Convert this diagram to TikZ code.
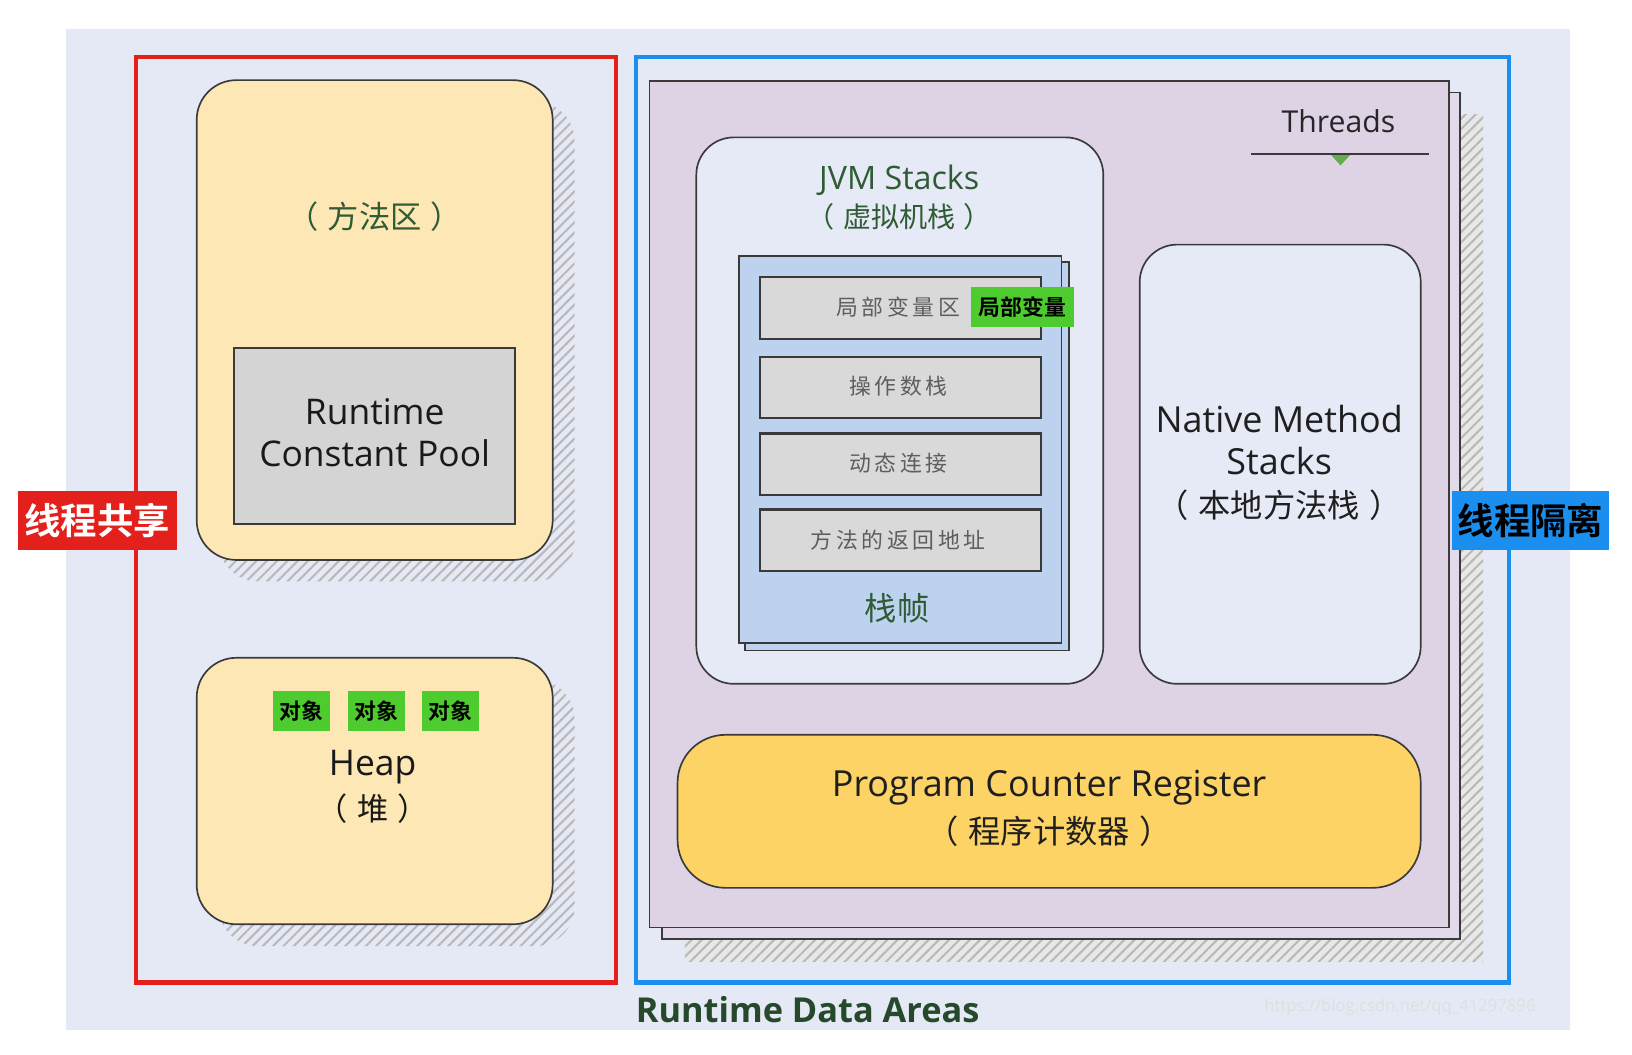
\documentclass[tikz,border=0pt]{standalone}
\usepackage{fontspec}
\setmainfont{Open Sans}
\newfontfamily\cjk{Noto Sans CJK SC}[BoldFont={Noto Sans CJK SC Bold}]
\usetikzlibrary{patterns.meta}
\definecolor{bgc}{HTML}{E5E9F5}
\definecolor{methodc}{HTML}{FDE7B4}
\definecolor{poolc}{HTML}{D4D4D4}
\definecolor{greenlbl}{HTML}{4ECB2E}
\definecolor{panelc}{HTML}{DDD3E5}
\definecolor{panelbc}{HTML}{E2DAEA}
\definecolor{stackc}{HTML}{E6EAF6}
\definecolor{framec}{HTML}{BCD2EE}
\definecolor{cellc}{HTML}{D9D9D9}
\definecolor{pcc}{HTML}{FCD364}
\definecolor{redc}{HTML}{E3201B}
\definecolor{bluec}{HTML}{1A8FF0}
\definecolor{gtext}{HTML}{2F5B35}
\definecolor{edgec}{HTML}{3A3A3A}
\definecolor{celltext}{HTML}{5E5E5E}
\newcommand{\lp}{（\hspace{0.3em}}
\newcommand{\rp}{\hspace{0.3em}）}
\tikzset{
  boxedge/.style={draw=edgec, line width=1.6pt},
  roundbox/.style={boxedge, rounded corners=#1, inner sep=0pt},
  roundbox/.default=38pt,
  hatchbox/.style={fill=gray!18, pattern={Lines[angle=45,distance=7pt,line width=2pt]}, pattern color=gray!55, inner sep=0pt},
  plainbox/.style={boxedge, inner sep=0pt},
  cellbox/.style={draw=edgec, line width=2pt, fill=cellc, inner sep=0pt, minimum width=270pt, minimum height=59pt},
  celltxt/.style={text=celltext, font=\cjk\fontsize{21}{24}\selectfont},
  greenbox/.style={fill=greenlbl, inner sep=0pt, font=\cjk\bfseries\fontsize{21}{24}\selectfont, text=black},
  txt/.style={inner sep=0pt, align=center},
}
\begin{document}
\begin{tikzpicture}[x=1pt,y=-1pt]
\useasboundingbox (0,0) rectangle (1568,1013);
\fill[white] (0,0) rectangle (1568,1013);
% background
\fill[bgc] (63,28) rectangle (1508,990);

% ---------------- left side ----------------
% method area
\node[hatchbox, rounded corners=38pt, minimum width=342pt, minimum height=461pt] (methodsh) at (381,328) {};
\node[roundbox, fill=methodc, minimum width=342pt, minimum height=461pt] (method) at (360,307.5) {};
\node[txt, text=gtext, font=\cjk\fontsize{30}{36}\selectfont] (methodlbl) at (360,208) {\lp 方法区\rp};
\node[plainbox, fill=poolc, line width=2pt, minimum width=270pt, minimum height=169pt] (pool) at (360,418.5) {};
\node[txt, text=black!90, font=\fontsize{34}{40}\selectfont] (pooltxt) at (360,416) {Runtime\\Constant Pool};

% heap
\node[hatchbox, rounded corners=38pt, minimum width=342pt, minimum height=256pt] (heapsh) at (381,781) {};
\node[roundbox, fill=methodc, minimum width=342pt, minimum height=256pt] (heap) at (360,760) {};
\node[greenbox, minimum width=55pt, minimum height=38pt] (obj1) at (290,683) {对象};
\node[greenbox, minimum width=55pt, minimum height=38pt] (obj2) at (362,683) {对象};
\node[greenbox, minimum width=55pt, minimum height=38pt] (obj3) at (433,683) {对象};
\node[txt, text=black!90, font=\fontsize{34}{40}\selectfont] (heaptxt) at (358,737) {Heap};
\node[txt, text=black!90, font=\cjk\fontsize{30}{36}\selectfont] (heapcn) at (358,777) {\lp 堆\rp};

% red frame
\draw[redc, line width=4pt] (131,55) rectangle (592,944);
\node[fill=redc, minimum width=153pt, minimum height=56pt, inner sep=0pt, text=white, font=\cjk\bfseries\fontsize{35}{40}\selectfont] (shared) at (93.5,500) {线程共享};

% ---------------- right side ----------------
% thread panels
\fill[gray!18] (658,110) rectangle (1425,924);
\fill[pattern={Lines[angle=45,distance=7pt,line width=2pt]}, pattern color=gray!55] (658,110) rectangle (1425,924);
\node[plainbox, fill=panelbc, minimum width=767pt, minimum height=813pt] (panel2) at (1019.5,495.5) {};
\node[plainbox, fill=panelc, minimum width=768pt, minimum height=813pt] (panel1) at (1008,484.5) {};

% Threads
\node[txt, text=black!85, font=\fontsize{29}{34}\selectfont] (threads) at (1286,116) {Threads};
\coordinate (thl) at (1202,148);
\coordinate (thr) at (1373,148);
\draw[edgec, line width=1.6pt] (thl) -- (thr);
\fill[greenlbl!75!black!80!white] (1279,149) -- (1297,149) -- (1288,159) -- cycle;

% JVM stacks
\node[roundbox=36pt, fill=stackc, minimum width=391pt, minimum height=525pt] (jvm) at (864.5,394.5) {};
\node[txt, text=gtext, font=\fontsize{31}{36}\selectfont] (jvmtxt) at (864,173) {JVM Stacks};
\node[txt, text=gtext, font=\cjk\fontsize{27}{34}\selectfont] (jvmcn) at (864,208) {\lp 虚拟机栈\rp};

% stack frame
\node[plainbox, fill=framec, minimum width=311pt, minimum height=373pt] (frame2) at (871.5,438.5) {};
\node[plainbox, fill=framec, minimum width=310pt, minimum height=372pt] (frame1) at (865,432) {};
\node[cellbox] (cell1) at (865,296) {};
\node[cellbox] (cell2) at (865,372.5) {};
\node[cellbox] (cell3) at (865,446) {};
\node[cellbox] (cell4) at (865,519) {};
\node[celltxt] (c1t) at (863,295) {局\,部\,变\,量\,区};
\node[celltxt] (c2t) at (863,371) {操\,作\,数\,栈};
\node[celltxt] (c3t) at (863,445) {动\,态\,连\,接};
\node[celltxt] (c4t) at (863,519) {方\,法\,的\,返\,回\,地\,址};
\node[greenbox, minimum width=99pt, minimum height=38pt] (localvar) at (982.5,295) {局部变量};
\node[txt, text=gtext, font=\cjk\fontsize{31}{36}\selectfont] (frametxt) at (862,584) {栈帧};

% native method stacks
\node[roundbox=36pt, fill=stackc, minimum width=270pt, minimum height=422pt] (native) at (1230,446) {};
\node[txt, text=black!88, font=\fontsize{34.5}{40}\selectfont] (nativetxt) at (1229,423) {Native Method\\Stacks};
\node[txt, text=black!88, font=\cjk\fontsize{31}{36}\selectfont] (nativecn) at (1229,485) {\lp 本地方法栈\rp};

% program counter
\node[roundbox=46pt, fill=pcc, minimum width=714pt, minimum height=147pt] (pc) at (1008,779.5) {};
\node[txt, text=black!88, font=\fontsize{34.5}{40}\selectfont] (pctxt) at (1008,757) {Program Counter Register};
\node[txt, text=black!88, font=\cjk\fontsize{31}{36}\selectfont] (pccn) at (1008,799) {\lp 程序计数器\rp};

% blue frame
\draw[bluec, line width=4pt] (611,55) rectangle (1450,944);
\node[fill=bluec, minimum width=151pt, minimum height=56pt, inner sep=0pt, text=black, font=\cjk\bfseries\fontsize{35}{40}\selectfont] (isolated) at (1470.5,500) {线程隔离};

% title
\node[txt, text=gtext!80!black, font=\bfseries\fontsize{33}{38}\selectfont] (title) at (776,970) {Runtime Data Areas};
\node[txt, text=white!75!gray, font=\fontsize{16}{20}\selectfont] (wm) at (1345,968) {https://blog.csdn.net/qq\_41297896};
\end{tikzpicture}
\end{document}
